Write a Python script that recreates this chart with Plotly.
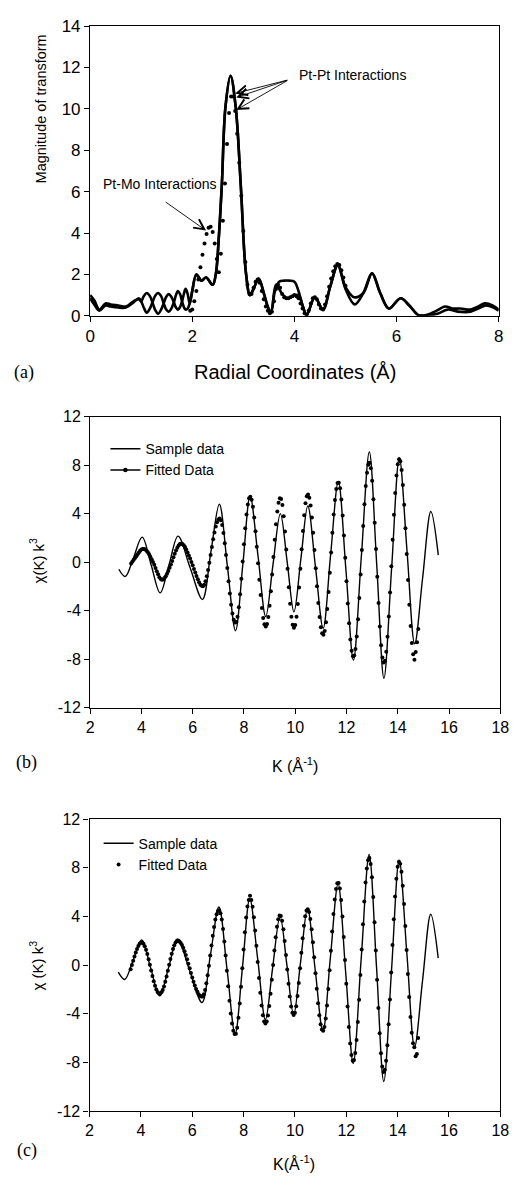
import plotly.graph_objects as go

# ---------------- Panel (a): Fourier transform magnitude ----------------
r_sample = [0.0, 0.08, 0.18, 0.3, 0.4, 0.55, 0.7, 0.85, 0.95, 1.0,
            1.05, 1.11, 1.17, 1.22, 1.27, 1.33, 1.39, 1.44, 1.49, 1.54,
            1.59, 1.64, 1.68, 1.72, 1.76, 1.8, 1.84, 1.87, 1.91, 1.95,
            2.0, 2.08, 2.18, 2.27, 2.4, 2.46, 2.52, 2.58, 2.65, 2.75,
            2.85, 2.95, 3.05, 3.13, 3.2, 3.3, 3.4, 3.47, 3.54, 3.62,
            3.7, 3.8, 3.9, 4.0, 4.08, 4.16, 4.24, 4.4, 4.56, 4.7,
            4.85, 5.0, 5.18, 5.35, 5.52, 5.68, 5.85, 6.08, 6.25, 6.43,
            6.6, 6.75, 6.95, 7.1, 7.25, 7.45, 7.6, 7.73, 7.88, 8.0]
mag_sample = [1.0, 0.75, 0.3, 0.6, 0.55, 0.5, 0.45, 0.7, 0.8, 0.7,
              0.95, 1.1, 0.95, 0.65, 0.3, 0.1, 0.3, 0.6, 0.92, 1.05,
              0.92, 0.65, 0.4, 0.3, 0.42, 0.7, 1.1, 1.3, 1.05, 0.6,
              1.2, 2.0, 1.7, 1.85, 1.5, 2.0, 3.8, 6.4, 10.1, 11.6,
              10.1, 6.3, 2.1, 1.0, 1.3, 1.8, 1.1, 0.5, 0.15, 1.2,
              1.65, 1.7, 1.7, 1.65, 1.2, 0.5, 0.05, 0.9, 0.3, 1.4,
              2.45, 1.3, 0.55, 1.1, 2.05, 1.1, 0.35, 0.85, 0.5, 0.03,
              0.05, 0.2, 0.45, 0.35, 0.35, 0.3, 0.45, 0.6, 0.5, 0.3]

r_fitline = [0.0, 0.08, 0.18, 0.3, 0.4, 0.55, 0.7, 0.85, 0.95, 1.0,
             1.05, 1.11, 1.17, 1.22, 1.27, 1.33, 1.39, 1.44, 1.49, 1.54,
             1.59, 1.64, 1.68, 1.72, 1.76, 1.8, 1.84, 1.87, 1.91, 1.95,
             2.0, 2.08, 2.18, 2.27, 2.4, 2.46, 2.52, 2.58, 2.65, 2.75,
             2.85, 2.95, 3.05, 3.13, 3.2, 3.3, 3.4, 3.47, 3.54, 3.64,
             3.75, 3.86, 3.97, 4.08, 4.16, 4.24, 4.4, 4.56, 4.7, 4.85,
             5.0, 5.17, 5.35, 5.52, 5.68, 5.85, 6.08, 6.25, 6.43, 6.6,
             6.8, 7.0, 7.2, 7.45, 7.6, 7.75, 7.9, 8.0]
mag_fitline = [0.85, 0.55, 0.25, 0.5, 0.45, 0.4, 0.4, 0.65, 0.85, 0.7,
               0.4, 0.15, 0.35, 0.65, 0.95, 1.1, 0.95, 0.6, 0.3, 0.2,
               0.35, 0.65, 1.0, 1.2, 1.05, 0.7, 0.4, 0.3, 0.35, 0.6,
               1.2, 2.0, 1.7, 1.85, 1.5, 2.0, 3.8, 6.4, 10.1, 11.6,
               10.1, 6.3, 2.1, 1.0, 1.3, 1.8, 1.1, 0.5, 0.15, 1.5,
               1.1, 0.85, 0.95, 1.0, 0.5, 0.05, 0.9, 0.3, 1.4, 2.45,
               1.4, 0.9, 1.1, 2.05, 1.1, 0.35, 0.85, 0.5, 0.03, 0.02,
               0.1, 0.3, 0.2, 0.2, 0.35, 0.5, 0.4, 0.25]

r_dots = [1.96, 2.00, 2.04, 2.08, 2.12, 2.16, 2.20, 2.24, 2.28, 2.32,
          2.36, 2.40, 2.44, 2.48, 2.52, 2.56, 2.60, 2.64, 2.68, 2.72,
          2.76, 2.80, 2.84, 2.88, 2.92, 2.96, 3.00, 3.04, 3.08, 3.12,
          3.16, 3.20, 3.24, 3.28, 3.32, 3.36, 3.40, 3.44, 3.48, 3.52,
          3.56, 3.60, 3.64, 3.68, 3.72, 3.76, 3.80, 3.84, 3.88, 3.92,
          3.96, 4.00, 4.04, 4.08, 4.12, 4.16, 4.20, 4.24, 4.28, 4.32,
          4.36, 4.40, 4.44, 4.48, 4.52, 4.56, 4.60, 4.64, 4.68, 4.72,
          4.76, 4.80, 4.84, 4.88, 4.92, 4.96, 5.00]
mag_dots = [0.25, 0.3, 0.7, 1.2, 1.75, 2.35, 2.95, 3.5, 3.95, 4.25,
            4.3, 4.05, 3.5, 2.75, 2.1, 3.0, 4.6, 6.4, 8.3, 9.8,
            10.6, 10.6, 9.9, 8.8, 7.4, 5.8, 4.1, 2.6, 1.5, 1.05,
            1.05, 1.35, 1.65, 1.75, 1.6, 1.2, 0.8, 0.45, 0.25, 0.12,
            0.2, 0.7, 1.3, 1.5, 1.35, 1.05, 0.9, 0.85, 0.85, 0.9,
            0.95, 1.0, 0.95, 0.85, 0.6, 0.35, 0.12, 0.05, 0.25, 0.6,
            0.85, 0.9, 0.8, 0.55, 0.35, 0.3, 0.55, 0.95, 1.4, 1.8,
            2.15, 2.4, 2.5, 2.45, 2.2, 1.85, 1.45]

# ---------------- Panels (b) and (c): chi(k) k^3 ----------------
k_sample = [3.12, 3.37, 3.68, 4.03, 4.38, 4.73, 5.08, 5.43, 5.9, 6.38,
            6.71, 7.04, 7.36, 7.67, 7.96, 8.24, 8.55, 8.85, 9.13, 9.42,
            9.69, 9.95, 10.22, 10.49, 10.79, 11.09, 11.38, 11.68, 11.98, 12.27,
            12.58, 12.89, 13.18, 13.46, 13.76, 14.06, 14.36, 14.66, 14.97, 15.29,
            15.58]
chi_sample = [-0.58, -1.18, 0.3, 2.07, -0.23, -2.53, -0.19, 2.15, -0.46, -3.07,
              0.86, 4.78, -0.44, -5.65, -0.1, 5.45, 0.49, -4.48, -0.24, 4.01,
              -0.05, -4.1, 0.27, 4.64, -0.4, -5.45, 0.61, 6.67, -0.7, -8.08,
              0.51, 9.1, -0.24, -9.57, -0.48, 8.62, 0.95, -6.73, -1.28, 4.18,
              0.58]

k_fit = [3.6, 3.65, 3.7, 3.75, 3.8, 3.85, 3.9, 3.95, 4.0, 4.05,
         4.1, 4.15, 4.2, 4.25, 4.3, 4.35, 4.4, 4.45, 4.5, 4.55,
         4.6, 4.65, 4.7, 4.75, 4.8, 4.85, 4.9, 4.95, 5.0, 5.05,
         5.1, 5.15, 5.2, 5.25, 5.3, 5.35, 5.4, 5.45, 5.5, 5.55,
         5.6, 5.65, 5.7, 5.75, 5.8, 5.85, 5.9, 5.95, 6.0, 6.05,
         6.1, 6.15, 6.2, 6.25, 6.3, 6.35, 6.4, 6.45, 6.5, 6.55,
         6.6, 6.65, 6.7, 6.75, 6.8, 6.85, 6.9, 6.95, 7.0, 7.05,
         7.1, 7.15, 7.2, 7.25, 7.3, 7.35, 7.4, 7.45, 7.5, 7.55,
         7.6, 7.65, 7.7, 7.75, 7.8, 7.85, 7.9, 7.95, 8.0, 8.05,
         8.1, 8.15, 8.2, 8.25, 8.3, 8.35, 8.4, 8.45, 8.5, 8.55,
         8.6, 8.65, 8.7, 8.75, 8.8, 8.85, 8.9, 8.95, 9.0, 9.05,
         9.1, 9.15, 9.2, 9.25, 9.3, 9.35, 9.4, 9.45, 9.5, 9.55,
         9.6, 9.65, 9.7, 9.75, 9.8, 9.85, 9.9, 9.95, 10.0, 10.05,
         10.1, 10.15, 10.2, 10.25, 10.3, 10.35, 10.4, 10.45, 10.5, 10.55,
         10.6, 10.65, 10.7, 10.75, 10.8, 10.85, 10.9, 10.95, 11.0, 11.05,
         11.1, 11.15, 11.2, 11.25, 11.3, 11.35, 11.4, 11.45, 11.5, 11.55,
         11.6, 11.65, 11.7, 11.75, 11.8, 11.85, 11.9, 11.95, 12.0, 12.05,
         12.1, 12.15, 12.2, 12.25, 12.3, 12.35, 12.4, 12.45, 12.5, 12.55,
         12.6, 12.65, 12.7, 12.75, 12.8, 12.85, 12.9, 12.95, 13.0, 13.05,
         13.1, 13.15, 13.2, 13.25, 13.3, 13.35, 13.4, 13.45, 13.5, 13.55,
         13.6, 13.65, 13.7, 13.75, 13.8, 13.85, 13.9, 13.95, 14.0, 14.05,
         14.1, 14.15, 14.2, 14.25, 14.3, 14.35, 14.4, 14.45, 14.5, 14.55,
         14.6, 14.65, 14.7, 14.75, 14.8]

chi_fit_b = [-0.1, 0.05, 0.2, 0.35, 0.5, 0.65, 0.8, 0.95, 1.05, 1.1,
             1.1, 1.05, 0.95, 0.82, 0.65, 0.45, 0.25, 0.02, -0.2, -0.48,
             -0.75, -1.0, -1.25, -1.38, -1.45, -1.42, -1.3, -1.15, -0.95, -0.72,
             -0.45, -0.18, 0.1, 0.4, 0.7, 0.97, 1.2, 1.38, 1.5, 1.52,
             1.5, 1.4, 1.25, 1.05, 0.8, 0.55, 0.3, 0.02, -0.25, -0.55,
             -0.85, -1.13, -1.4, -1.65, -1.85, -1.95, -1.99, -1.85, -1.57, -1.16,
             -0.64, -0.04, 0.6, 1.26, 1.89, 2.46, 2.94, 3.3, 3.52, 3.6,
             3.46, 3.06, 2.42, 1.57, 0.59, -0.48, -1.56, -2.59, -3.5, -4.23,
             -4.74, -4.98, -4.93, -4.5, -3.72, -2.64, -1.36, 0.05, 1.48, 2.8,
             3.93, 4.77, 5.27, 5.4, 5.15, 4.57, 3.68, 2.56, 1.27, -0.09,
             -1.44, -2.7, -3.78, -4.61, -5.12, -5.3, -5.1, -4.52, -3.59, -2.4,
             -1.01, 0.43, 1.86, 3.14, 4.18, 4.91, 5.27, 5.22, 4.71, 3.79,
             2.54, 1.05, -0.53, -2.06, -3.42, -4.49, -5.16, -5.4, -5.17, -4.49,
             -3.44, -2.08, -0.54, 1.06, 2.57, 3.88, 4.86, 5.45, 5.58, 5.32,
             4.67, 3.68, 2.43, 1.01, -0.5, -1.99, -3.36, -4.51, -5.37, -5.87,
             -5.99, -5.68, -4.95, -3.85, -2.46, -0.87, 0.8, 2.44, 3.93, 5.14,
             6.04, 6.53, 6.56, 6.1, 5.18, 3.85, 2.2, 0.36, -1.56, -3.4,
             -5.04, -6.38, -7.3, -7.76, -7.7, -7.15, -6.13, -4.7, -2.95, -1.01,
             1.01, 2.98, 4.78, 6.28, 7.38, 8.03, 8.2, 7.75, 6.73, 5.2,
             3.26, 1.09, -1.19, -3.36, -5.3, -6.84, -7.86, -8.28, -8.12, -7.38,
             -6.14, -4.48, -2.5, -0.34, 1.85, 3.91, 5.72, 7.15, 8.09, 8.5,
             8.32, 7.6, 6.38, 4.75, 2.8, 0.68, -1.47, -3.5, -5.27, -6.67,
             -7.6, -8.05, -7.4, -6.6, -5.5]

chi_fit_c = [-0.34, 0.0, 0.35, 0.7, 1.04, 1.33, 1.57, 1.75, 1.84, 1.85,
             1.75, 1.55, 1.27, 0.91, 0.49, 0.03, -0.44, -0.9, -1.33, -1.7,
             -2.0, -2.22, -2.33, -2.35, -2.24, -2.04, -1.75, -1.37, -0.94, -0.47,
             0.02, 0.5, 0.94, 1.33, 1.64, 1.86, 1.98, 2.0, 1.94, 1.82,
             1.65, 1.42, 1.14, 0.83, 0.48, 0.12, -0.26, -0.64, -1.01, -1.36,
             -1.68, -1.97, -2.2, -2.39, -2.52, -2.59, -2.58, -2.4, -2.04, -1.5,
             -0.83, -0.05, 0.78, 1.62, 2.42, 3.14, 3.74, 4.18, 4.44, 4.5,
             4.27, 3.75, 2.96, 1.95, 0.78, -0.47, -1.73, -2.93, -3.98, -4.81,
             -5.39, -5.67, -5.65, -5.16, -4.32, -3.16, -1.78, -0.26, 1.28, 2.7,
             3.92, 4.82, 5.36, 5.7, 5.36, 4.79, 3.93, 2.84, 1.59, 0.26,
             -1.05, -2.28, -3.32, -4.13, -4.63, -4.8, -4.63, -4.14, -3.36, -2.36,
             -1.2, 0.01, 1.21, 2.29, 3.16, 3.77, 4.08, 4.03, 3.65, 2.94,
             1.98, 0.84, -0.36, -1.54, -2.58, -3.4, -3.92, -4.1, -3.92, -3.38,
             -2.55, -1.47, -0.25, 1.01, 2.2, 3.24, 4.02, 4.48, 4.6, 4.36,
             3.8, 2.95, 1.87, 0.64, -0.66, -1.95, -3.13, -4.12, -4.86, -5.29,
             -5.4, -5.09, -4.38, -3.32, -1.97, -0.43, 1.19, 2.77, 4.21, 5.39,
             6.26, 6.73, 6.76, 6.29, 5.35, 3.99, 2.31, 0.43, -1.53, -3.41,
             -5.08, -6.45, -7.39, -7.86, -7.8, -7.22, -6.15, -4.67, -2.84, -0.81,
             1.29, 3.35, 5.23, 6.8, 7.95, 8.62, 8.8, 8.32, 7.23, 5.6,
             3.53, 1.21, -1.21, -3.53, -5.6, -7.24, -8.33, -8.78, -8.61, -7.86,
             -6.58, -4.86, -2.82, -0.6, 1.65, 3.78, 5.64, 7.11, 8.08, 8.5,
             8.33, 7.67, 6.53, 5.02, 3.21, 1.25, -0.74, -2.62, -4.27, -5.57,
             -6.43, -6.75, -7.5, -7.3, -6.0]

assert len(r_sample) == len(mag_sample), (len(r_sample), len(mag_sample))
assert len(r_fitline) == len(mag_fitline), (len(r_fitline), len(mag_fitline))
assert len(r_dots) == len(mag_dots), (len(r_dots), len(mag_dots))
assert len(k_sample) == len(chi_sample), (len(k_sample), len(chi_sample))
assert len(k_fit) == len(chi_fit_b) == len(chi_fit_c), (len(k_fit), len(chi_fit_b), len(chi_fit_c))

# tick labels
r_ticks = [0, 2, 4, 6, 8]
r_ticktext = ["0", "2", "4", "6", "8"]
mag_ticks = [0, 2, 4, 6, 8, 10, 12, 14]
mag_ticktext = ["0", "2", "4", "6", "8", "10", "12", "14"]
k_ticks = [2, 4, 6, 8, 10, 12, 14, 16, 18]
k_ticktext = ["2", "4", "6", "8", "10", "12", "14", "16", "18"]
chi_ticks = [-12, -8, -4, 0, 4, 8, 12]
chi_ticktext = ["-12", "-8", "-4", "0", "4", "8", "12"]

# The page body keeps the browser's default 8 px margin (top/left), so the
# figure is sized to end exactly at the window's right/bottom edges.
PAGE_MARGIN = 8
W, H = 521 - PAGE_MARGIN, 1186 - PAGE_MARGIN
SANS = "Liberation Sans, Arial, sans-serif"
SERIF = "Liberation Serif, Times New Roman, serif"


def px_x(p):
    return (p - PAGE_MARGIN) / W


def px_y(p):
    return 1 - (p - PAGE_MARGIN) / H


fig = go.Figure()

# Panel (a)
fig.add_trace(go.Scatter(x=r_sample, y=mag_sample, mode="lines",
                         line=dict(color="black", width=2.6, shape="spline", smoothing=1.0),
                         xaxis="x", yaxis="y", showlegend=False))
fig.add_trace(go.Scatter(x=r_fitline, y=mag_fitline, mode="lines",
                         line=dict(color="black", width=2.6, shape="spline", smoothing=1.0),
                         xaxis="x", yaxis="y", showlegend=False))
fig.add_trace(go.Scatter(x=r_dots, y=mag_dots, mode="markers",
                         marker=dict(color="black", size=4),
                         xaxis="x", yaxis="y", showlegend=False))

# Panel (b)
fig.add_trace(go.Scatter(x=k_sample, y=chi_sample, mode="lines", name="Sample data",
                         line=dict(color="black", width=1.4, shape="spline", smoothing=1.0),
                         xaxis="x2", yaxis="y2", legend="legend"))
fig.add_trace(go.Scatter(x=k_fit, y=chi_fit_b, mode="markers", name="Fitted Data",
                         marker=dict(color="black", size=4),
                         xaxis="x2", yaxis="y2", showlegend=False))
fig.add_trace(go.Scatter(x=[None], y=[None], mode="lines+markers", name="Fitted Data",
                         line=dict(color="black", width=1.4),
                         marker=dict(color="black", size=4.5),
                         xaxis="x2", yaxis="y2", legend="legend"))

# Panel (c)
fig.add_trace(go.Scatter(x=k_sample, y=chi_sample, mode="lines", name="Sample data",
                         line=dict(color="black", width=1.4, shape="spline", smoothing=1.0),
                         xaxis="x3", yaxis="y3", legend="legend2"))
fig.add_trace(go.Scatter(x=k_fit, y=chi_fit_c, mode="markers", name="Fitted Data",
                         marker=dict(color="black", size=4),
                         xaxis="x3", yaxis="y3", legend="legend2"))

axis_common = dict(showline=True, linecolor="black", linewidth=1.3, mirror=True,
                   ticks="outside", ticklen=5, tickwidth=1.2, tickcolor="black",
                   showgrid=False, zeroline=False, tickmode="array",
                   ticklabeloverflow="allow",
                   tickfont=dict(family=SANS, size=16, color="black"))

fig.update_layout(
    width=W, height=H,
    margin=dict(l=0, r=0, t=0, b=0),
    paper_bgcolor="white", plot_bgcolor="white",
    font=dict(family=SANS, color="black"),
    xaxis=dict(axis_common, domain=[px_x(87.3), px_x(507.3)], range=[0, 8],
               tickvals=r_ticks, ticktext=r_ticktext, anchor="y",
               tickfont=dict(family=SANS, size=17, color="black")),
    yaxis=dict(axis_common, domain=[px_y(311.7), px_y(17.3)], range=[0, 14],
               tickvals=mag_ticks, ticktext=mag_ticktext, anchor="x",
               tickfont=dict(family=SANS, size=17, color="black")),
    xaxis2=dict(axis_common, domain=[px_x(87.3), px_x(509)], range=[2, 18],
                tickvals=k_ticks, ticktext=k_ticktext, anchor="y2"),
    yaxis2=dict(axis_common, domain=[px_y(710), px_y(414.3)], range=[-12, 12],
                tickvals=chi_ticks, ticktext=chi_ticktext, anchor="x2"),
    xaxis3=dict(axis_common, domain=[px_x(86.7), px_x(509)], range=[2, 18],
                tickvals=k_ticks, ticktext=k_ticktext, anchor="y3"),
    yaxis3=dict(axis_common, domain=[px_y(1120), px_y(823.3)], range=[-12, 12],
                tickvals=chi_ticks, ticktext=chi_ticktext, anchor="x3"),
    legend=dict(x=px_x(103), y=px_y(431), xanchor="left", yanchor="top",
                bgcolor="rgba(0,0,0,0)", font=dict(family=SANS, size=14, color="black"),
                itemwidth=30, tracegroupgap=0),
    legend2=dict(x=px_x(96), y=px_y(832), xanchor="left", yanchor="top",
                 bgcolor="rgba(0,0,0,0)", font=dict(family=SANS, size=14, color="black"),
                 itemwidth=30, tracegroupgap=0),
)

annotations = [
    # axis titles and panel labels
    dict(text="Magnitude of transform", x=px_x(37), y=px_y(101.7), textangle=-90,
         font=dict(family=SANS, size=14.5)),
    dict(text="Radial Coordinates (Å)", x=px_x(297.5), y=px_y(369.3),
         font=dict(family=SANS, size=20)),
    dict(text="(a)", x=px_x(19.5), y=px_y(369), font=dict(family=SERIF, size=18)),
    dict(text="χ(K) k<sup>3</sup>", x=px_x(32), y=px_y(560), textangle=-90,
         font=dict(family=SANS, size=15)),
    dict(text="K (Å<sup>-1</sup>)", x=px_x(298), y=px_y(768.3),
         font=dict(family=SANS, size=16)),
    dict(text="(b)", x=px_x(21.7), y=px_y(766), font=dict(family=SERIF, size=18)),
    dict(text="χ (K) k<sup>3</sup>", x=px_x(32), y=px_y(971.7), textangle=-90,
         font=dict(family=SANS, size=15)),
    dict(text="K(Å<sup>-1</sup>)", x=px_x(297), y=px_y(1172.5),
         font=dict(family=SANS, size=16)),
    dict(text="(c)", x=px_x(22), y=px_y(1160), font=dict(family=SERIF, size=18)),
]
for a in annotations:
    a.update(xref="paper", yref="paper", showarrow=False, xanchor="center", yanchor="middle")

# Panel (a) labels
annotations += [
    dict(text="Pt-Pt Interactions", x=5.13, y=11.64, xref="x", yref="y", showarrow=False,
         font=dict(family=SANS, size=14)),
    dict(text="Pt-Mo Interactions", x=1.375, y=6.36, xref="x", yref="y", showarrow=False,
         font=dict(family=SANS, size=14)),
]
arrow_tail_ptpt = (3.89, 11.41)
arrow_tips_ptpt = [(2.84, 10.75), (2.86, 10.55), (2.86, 9.95)]
for tx, ty in arrow_tips_ptpt:
    annotations.append(dict(x=tx, y=ty, ax=arrow_tail_ptpt[0], ay=arrow_tail_ptpt[1],
                            xref="x", yref="y", axref="x", ayref="y", text="",
                            showarrow=True, arrowhead=5, arrowsize=2.2, arrowwidth=0.9,
                            arrowcolor="black"))
annotations.append(dict(x=2.27, y=4.12, ax=1.45, ay=5.55, xref="x", yref="y",
                        axref="x", ayref="y", text="", showarrow=True, arrowhead=5,
                        arrowsize=2.2, arrowwidth=0.9, arrowcolor="black"))

fig.update_layout(annotations=annotations)

fig.write_html("out.html")
